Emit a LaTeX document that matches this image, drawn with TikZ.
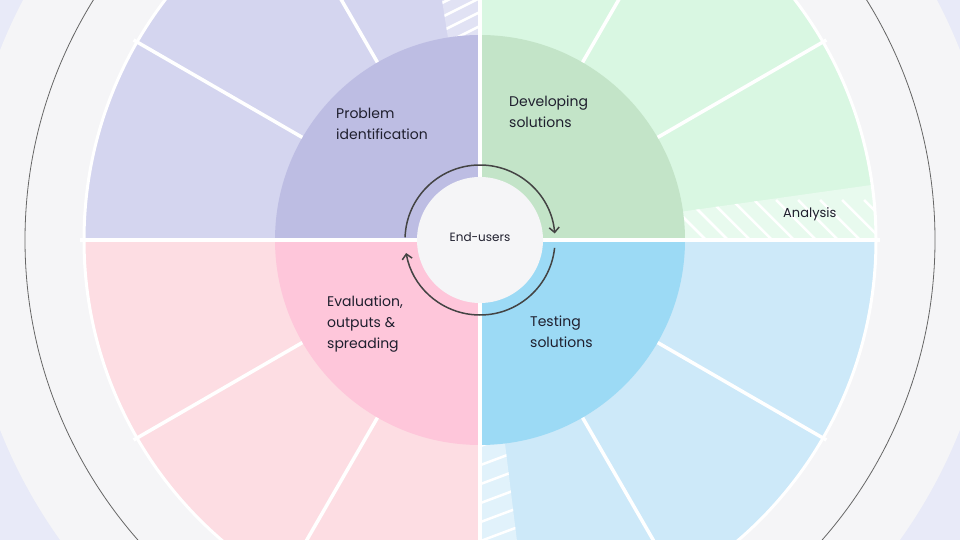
\documentclass[tikz,border=0pt]{standalone}
\usepackage{fontspec}
\setmainfont{Poppins}
\usetikzlibrary{arrows.meta}
\definecolor{bgl}{HTML}{E8EAF8}
\definecolor{gry}{HTML}{F5F5F7}
\definecolor{tlo}{HTML}{D4D5EF}\definecolor{tli}{HTML}{BDBDE3}
\definecolor{tro}{HTML}{D9F7E2}\definecolor{tri}{HTML}{C3E4C8}
\definecolor{bro}{HTML}{CDE9F9}\definecolor{bri}{HTML}{9CDAF5}
\definecolor{blo}{HTML}{FDDDE3}\definecolor{bli}{HTML}{FEC6DA}
\definecolor{txt}{HTML}{1F1F2E}
\definecolor{arr}{HTML}{444444}
\tikzset{lbl/.style={font=\fontsize{14}{21}\selectfont, text=txt, align=left, anchor=north west, inner sep=0pt},
 sep/.style={white, line width=3.5pt},
 hatch/.style={white, line width=2.5pt},
 ring/.style={arr, line width=1.5pt}}
\newcommand{\sect}[4]{\fill[#1] (480,300) -- ++(#2:#4) arc (#2:#3:#4) -- cycle;}
\begin{document}
\begin{tikzpicture}[x=1pt,y=1pt]
\fill[bgl] (0,0) rectangle (960,540);
\useasboundingbox (0,0) rectangle (960,540);
\begin{scope}
\clip (0,0) rectangle (960,540);
\fill[gry] (480,300) circle (516);
\draw[gray!80!black, line width=0.8pt] (480,300) circle (455);
% outer quadrants
\sect{tro}{0}{90}{395}
\sect{tlo}{90}{180}{395}
\sect{blo}{180}{270}{395}
\sect{bro}{270}{360}{395}
% hatches
\begin{scope}
\clip (480,300) -- ++(0:395) arc (0:8:395) -- cycle;
\fill[tro!60!white] (480,300) circle (395);
\foreach \i in {0,...,30} \draw[hatch] (600+\i*22,340) -- ++(50,-50);
\end{scope}
\begin{scope}
\clip (480,300) -- ++(90:395) arc (90:99:395) -- cycle;
\fill[tlo!70!white] (480,300) circle (395);
\foreach \i in {0,...,30} \draw[hatch] (420,400+\i*14) -- ++(80,40);
\end{scope}
\begin{scope}
\clip (480,300) -- ++(270:395) arc (270:277:395) -- cycle;
\fill[bro!60!white] (480,300) circle (395);
\foreach \i in {0,...,30} \draw[hatch] (470,-100+\i*19) -- ++(80,30);
\end{scope}
% separators
\foreach \a in {30,60,120,150,210,240,300,330}
  \draw[sep] (480,300) ++(\a:200) -- ++(\a:200);
\draw[white, line width=3pt] (480,300) circle (396);
% inner quadrants
\sect{tri}{0}{90}{205}
\sect{tli}{90}{180}{205}
\sect{bli}{180}{270}{205}
\sect{bri}{270}{360}{205}
\draw[sep] (80,300) -- (880,300);
\draw[sep] (480,-100) -- (480,700);
\fill[gry] (480,300) circle (63);
\end{scope}
% ring arrows
\draw[ring, -{Straight Barb[length=5pt,width=10pt]}] (480,300) ++(178:75) arc (178:5:75);
\draw[ring, -{Straight Barb[length=5pt,width=10pt]}] (480,300) ++(-6:75) arc (-6:-170:75);
\node[font=\fontsize{12}{14}\selectfont, text=txt] (eu) at (480,303) {End-users};
\node[lbl] (p1) at (336,432) {Problem\\identification};
\node[lbl] (p2) at (509,444) {Developing\\solutions};
\node[lbl] (p3) at (530,224) {Testing\\solutions};
\node[lbl] (p4) at (327,244) {Evaluation,\\outputs \&\\spreading};
\node[lbl, font=\fontsize{13}{16}\selectfont] (an) at (783,333) {Analysis};
\end{tikzpicture}
\end{document}
